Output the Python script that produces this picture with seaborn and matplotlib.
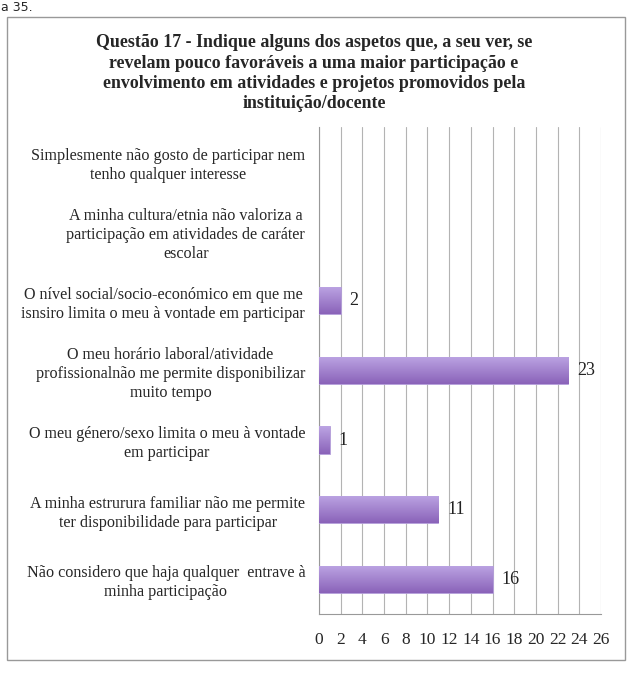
import matplotlib.pyplot as plt
import matplotlib.colors as mcolors
import numpy as np
import pandas as pd
import seaborn as sns

title = ("Questão 17 - Indique alguns dos aspetos que, a seu ver, se\n"
         "revelam pouco favoráveis a uma maior participação e\n"
         "envolvimento em atividades e projetos promovidos pela\n"
         "instituição/docente")

categories = [
    "Simplesmente não gosto de participar nem\ntenho qualquer interesse",
    "A minha cultura/etnia não valoriza a\nparticipação em atividades de caráter\nescolar",
    "O nível social/socio-económico em que me\nisnsiro limita o meu à vontade em participar",
    "O meu horário laboral/atividade\nprofissionalnão me permite disponibilizar\nmuito tempo",
    "O meu género/sexo limita o meu à vontade\nem participar",
    "A minha estrurura familiar não me permite\nter disponibilidade para participar",
    "Não considero que haja qualquer  entrave à\nminha participação",
]
counts = [0, 0, 2, 23, 1, 11, 16]
x_ticks = list(range(0, 27, 2))

df = pd.DataFrame({"aspeto": categories, "n": counts})

sns.set_style("white")
plt.rcParams["font.family"] = ["Liberation Serif", "DejaVu Serif"]

fig = plt.figure(figsize=(6.28, 6.75), dpi=100)
ax = fig.add_axes([0.508, 0.0904, 0.449, 0.7215])

sns.barplot(data=df, x="n", y="aspeto", orient="h", color="#a080cc",
            width=0.39, ax=ax, zorder=3, linewidth=0)

# vertical gradient fill on each bar
cmap = mcolors.LinearSegmentedColormap.from_list("lav", ["#8a63b9", "#bca4e3"])
grad = np.linspace(0, 1, 64).reshape(-1, 1)
for p in ax.patches:
    w = p.get_width()
    if w <= 0:
        p.set_visible(False)
        continue
    x0, y0 = p.get_x(), p.get_y()
    h = p.get_height()
    im = ax.imshow(grad, cmap=cmap, aspect="auto", origin="upper",
                   extent=[x0, x0 + w, y0, y0 + h], zorder=4)
    im.set_clip_path(p)
    p.set_edgecolor("#b49ddb")
    p.set_linewidth(0.6)
    ax.text(x0 + w + 0.8, y0 + h / 2, f"{int(w)}", va="center", ha="left",
            fontsize=13, color="#222222", zorder=5)

ax.set_xlim(0, 26)
ax.set_ylim(len(categories) - 0.5, -0.5)
ax.set_xticks(x_ticks)
ax.set_xticklabels([str(t) for t in x_ticks], fontsize=12.5)
ax.set_yticks(range(len(categories)))
ax.set_yticklabels(categories, fontsize=11.6, multialignment="center",
                   linespacing=1.25)
ax.set_yticks(np.arange(-0.5, len(categories), 1), minor=True)
ax.tick_params(axis="y", which="major", length=0, pad=10)
ax.tick_params(axis="y", which="minor", length=5, color="#999999", width=0.8)
ax.tick_params(axis="x", length=5, color="#999999", width=0.8, pad=8)
ax.set_xlabel("")
ax.set_ylabel("")

ax.grid(axis="x", color="#b3b3b3", linewidth=0.8, zorder=0)
ax.set_axisbelow(True)
for s in ["top", "right"]:
    ax.spines[s].set_visible(False)
for s in ["left", "bottom"]:
    ax.spines[s].set_color("#999999")
    ax.spines[s].set_linewidth(0.8)

fig.text(0.5, 0.949, title, ha="center", va="top", fontsize=12.9,
         fontweight="bold", linespacing=1.25)

# fragment of the surrounding document text above the chart
fig.text(0.002, 1 - 1 / 675, "a 35.", ha="left", va="top", fontsize=9,
         family="DejaVu Sans")

# outer frame
frame = plt.Rectangle((7 / 628, 1 - 660 / 675), 618 / 628, 643 / 675,
                      transform=fig.transFigure, fill=False,
                      edgecolor="#999999", linewidth=1.0)
fig.patches.append(frame)

fig.savefig("out.png", dpi=100, facecolor="white")
